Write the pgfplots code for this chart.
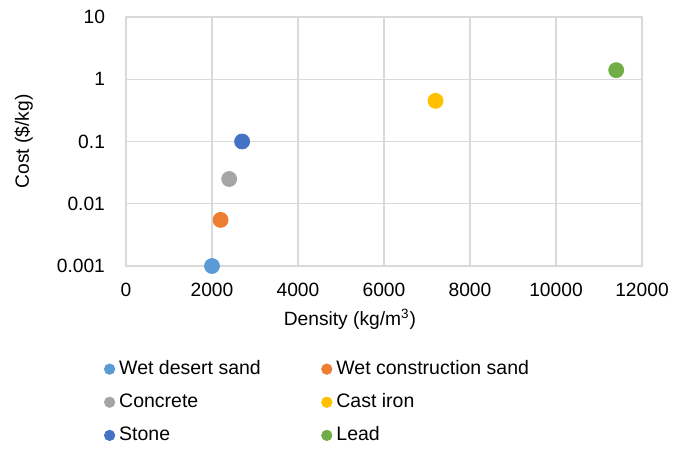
\documentclass[border=0pt]{standalone}
\usepackage{pgfplots}
\pgfplotsset{compat=1.18}
\usepackage{fontspec}
\setmainfont{Liberation Sans}
\usetikzlibrary{calc}

\definecolor{c1}{HTML}{5B9BD5}
\definecolor{c2}{HTML}{ED7D31}
\definecolor{c3}{HTML}{A5A5A5}
\definecolor{c4}{HTML}{FFC000}
\definecolor{c5}{HTML}{4472C4}
\definecolor{c6}{HTML}{70AD47}
\definecolor{gridc}{HTML}{D9D9D9}

\begin{document}
\begin{tikzpicture}
\begin{axis}[
    scale only axis,
    width=258pt, height=124.5pt,
    ymode=log,
    xmin=0, xmax=12000,
    ymin=0.001, ymax=10,
    xtick={0,2000,...,12000},
    scaled x ticks=false,
    ytick={0.001,0.01,0.1,1,10},
    yticklabels={0.001,0.01,0.1,1,10},
    minor ytick={},
    /pgf/number format/1000 sep={},
    /pgf/number format/fixed,
    /pgf/number format/assume math mode=true,
    grid=major,
    major grid style={gridc, line width=0.6pt},
    axis line style={gridc, line width=0.6pt},
    major tick length=0pt,
    tick style={draw=none},
    ticklabel style={font=\fontsize{9.6}{11}\selectfont, black},
    yticklabel style={xshift=-7pt},
    xticklabel style={yshift=-5pt},
    xlabel={Density (kg/m\textsuperscript{3})},
    ylabel={Cost (\$/kg)},
    label style={font=\fontsize{9.6}{11}\selectfont},
    xlabel style={at={(axis description cs:0.434,0)}, anchor=north, yshift=-18pt},
    ylabel style={at={(axis description cs:0,0.5)}, anchor=south, yshift=43pt},
    clip=false,
    legend columns=2,
    legend cell align=left,
    legend style={
        at={(axis description cs:-0.055,-0.346)}, anchor=north west,
        draw=none, fill=none,
        font=\fontsize{9.75}{11}\selectfont,
        row sep=4pt,
    },
    legend image code/.code={\fill[#1] (0pt,0pt) circle (2.6pt);},
]
\addplot[only marks, mark=*, mark size=3.75pt, color=c1] coordinates {(2000,0.001)};
\addlegendentry{\makebox[99pt][l]{Wet desert sand}}
\addplot[only marks, mark=*, mark size=3.75pt, color=c2] coordinates {(2200,0.0055)};
\addlegendentry{Wet construction sand}
\addplot[only marks, mark=*, mark size=3.75pt, color=c3] coordinates {(2400,0.025)};
\addlegendentry{\makebox[99pt][l]{Concrete}}
\addplot[only marks, mark=*, mark size=3.75pt, color=c4] coordinates {(7200,0.45)};
\addlegendentry{Cast iron}
\addplot[only marks, mark=*, mark size=3.75pt, color=c5] coordinates {(2700,0.1)};
\addlegendentry{\makebox[99pt][l]{Stone}}
\addplot[only marks, mark=*, mark size=3.75pt, color=c6] coordinates {(11400,1.4)};
\addlegendentry{Lead}
\end{axis}
\path ($(current axis.south west)+(-63pt,-90.5pt)$) rectangle ($(current axis.north east)+(22.5pt,8.5pt)$);
\end{tikzpicture}
\end{document}
